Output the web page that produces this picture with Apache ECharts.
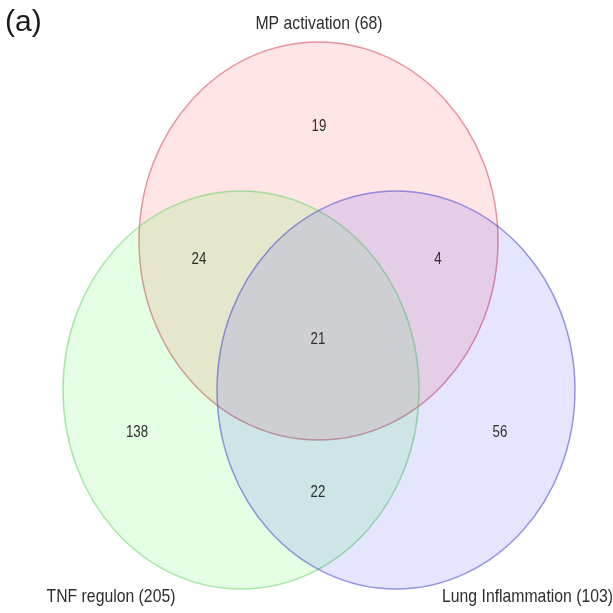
<!DOCTYPE html>
<html>
<head>
<meta charset="utf-8">
<script src="https://cdn.jsdelivr.net/npm/echarts@6/dist/echarts.min.js"></script>
<style>
  html, body { margin: 0; padding: 0; background: #ffffff; }
  #chart { width: 613px; height: 613px; }
</style>
</head>
<body>
<div id="chart"></div>
<script>
// Gene sets and their sizes
const setNames = ['MP activation', 'TNF regulon', 'Lung Inflammation'];
const setTotals = [68, 205, 103];

// Counts for every region of the three-way Venn diagram
const regionKeys = ['MP only', 'MP & TNF', 'MP & Lung', 'MP & TNF & Lung', 'TNF only', 'Lung only', 'TNF & Lung'];
const regionCounts = [19, 24, 4, 21, 138, 56, 22];

// Drawing layout, in plot units (0..613 on both axes, y pointing down)
const ellipseShapes = [
  { cx: 318.5, cy: 241, rx: 179.5, ry: 199 },
  { cx: 241, cy: 390, rx: 178, ry: 199 },
  { cx: 396, cy: 390, rx: 179, ry: 199 }
];
// translucent fills: overlaps mix into beige, purple, teal and grey
const ellipseStyles = [
  { fill: 'rgba(255,0,0,0.1)', stroke: 'rgba(214,70,90,0.55)' },
  { fill: 'rgba(0,255,0,0.1)', stroke: 'rgba(90,210,90,0.5)' },
  { fill: 'rgba(0,0,255,0.1)', stroke: 'rgba(70,70,210,0.55)' }
];
const regionAnchors = [[319, 127], [199, 260], [438, 260], [318, 340], [137, 433], [500, 433], [318, 493]];
const setLabelAnchors = [[319, 24], [111, 597], [613, 597]];
const setLabelAlign = ['center', 'center', 'right'];

const TEXT_FONT = '"Liberation Sans", Arial, sans-serif';
const TEXT_COLOR = '#2e2e2e';
// the labels use a condensed face; emulate it by squeezing horizontally
const CONDENSE = 0.83;

function condensedText(api, point, text, fontSize, align) {
  const p = api.coord(point);
  return {
    type: 'text',
    x: p[0],
    y: p[1],
    scaleX: CONDENSE,
    style: {
      text: text,
      fontSize: fontSize,
      fontFamily: TEXT_FONT,
      fill: TEXT_COLOR,
      align: align,
      verticalAlign: 'middle'
    }
  };
}

const chart = echarts.init(document.getElementById('chart'), null, { renderer: 'canvas' });

chart.setOption({
  backgroundColor: '#ffffff',
  animation: false,
  title: {
    text: '(a)',
    left: 0,
    top: 3,
    textStyle: { fontSize: 30, fontWeight: 'normal', color: '#1a1a1a', fontFamily: TEXT_FONT }
  },
  grid: { left: 0, right: 0, top: 0, bottom: 0 },
  xAxis: { type: 'value', min: 0, max: 613, show: false },
  yAxis: { type: 'value', min: 0, max: 613, inverse: true, show: false },
  series: [
    {
      // the three sets, drawn as overlapping ellipses
      type: 'custom',
      data: setTotals.map((t, i) => ({ name: setNames[i], value: [i, t] })),
      renderItem: function (params, api) {
        const e = ellipseShapes[params.dataIndex];
        const st = ellipseStyles[params.dataIndex];
        const c = api.coord([e.cx, e.cy]);
        const s = api.size([e.rx, e.ry]);
        return {
          type: 'ellipse',
          shape: { cx: c[0], cy: c[1], rx: Math.abs(s[0]), ry: Math.abs(s[1]) },
          style: { fill: st.fill, stroke: st.stroke, lineWidth: 1.5 }
        };
      },
      silent: true,
      z: 1
    },
    {
      // region counts
      type: 'custom',
      data: regionCounts.map((v, i) => ({ name: regionKeys[i], value: [i, v] })),
      renderItem: function (params, api) {
        const i = params.dataIndex;
        return condensedText(api, regionAnchors[i], String(api.value(1)), 16, 'center');
      },
      silent: true,
      z: 3
    },
    {
      // set names with their totals
      type: 'custom',
      data: setTotals.map((t, i) => ({ name: setNames[i], value: [i, t] })),
      renderItem: function (params, api) {
        const i = params.dataIndex;
        return condensedText(api, setLabelAnchors[i], setNames[i] + ' (' + api.value(1) + ')', 19, setLabelAlign[i]);
      },
      silent: true,
      z: 3
    }
  ]
});
</script>
</body>
</html>
